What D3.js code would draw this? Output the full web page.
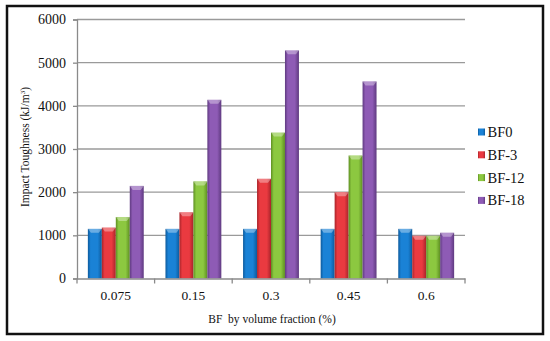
<!DOCTYPE html>
<html>
<head>
<meta charset="utf-8">
<script src="https://cdn.jsdelivr.net/npm/d3@7"></script>
<style>
  body { margin: 0; background: #fff; }
  svg { display: block; font-family: "Liberation Serif", "Times New Roman", serif; }
</style>
</head>
<body>
<svg width="550" height="341"></svg>
<script>
var categories = ["0.075", "0.15", "0.3", "0.45", "0.6"];
var seriesNames = ["BF0", "BF-3", "BF-12", "BF-18"];
var bf0 = [1150, 1150, 1150, 1150, 1150];
var bf3 = [1180, 1535, 2310, 2000, 990];
var bf12 = [1425, 2250, 3380, 2850, 990];
var bf18 = [2145, 4140, 5285, 4565, 1060];
var yTicks = [0, 1000, 2000, 3000, 4000, 5000, 6000];
var colors = ["#1a82d6", "#ea3a40", "#8cc840", "#8e5bb5"];
var dark = ["#0d5a9c", "#a8242a", "#5e8f22", "#5f3a80"];

var allSeries = [bf0, bf3, bf12, bf18];

var svg = d3.select("svg");

// cadre
svg.append("rect")
    .attr("x", 7).attr("y", 6)
    .attr("width", 536).attr("height", 328)
    .attr("fill", "none")
    .attr("stroke", "#111")
    .attr("stroke-width", 2.5);

var plotLeft = 77, plotRight = 465, plotTop = 19.5, plotBottom = 278.5;

var x0 = d3.scaleBand().domain(categories).range([plotLeft, plotRight]).paddingInner(0).paddingOuter(0);
var x1 = d3.scaleBand().domain(seriesNames)
    .range([x0.bandwidth() * 0.14, x0.bandwidth() * 0.86]).padding(0);
var y = d3.scaleLinear().domain([0, 6000]).range([plotBottom, plotTop]);

// gradients pour l'effet 3D
var defs = svg.append("defs");
seriesNames.forEach(function (s, i) {
    var g = defs.append("linearGradient").attr("id", "grad" + i)
        .attr("x1", "0%").attr("x2", "100%").attr("y1", "0%").attr("y2", "0%");
    g.append("stop").attr("offset", "0%").attr("stop-color", dark[i]);
    g.append("stop").attr("offset", "20%").attr("stop-color", colors[i]);
    g.append("stop").attr("offset", "70%").attr("stop-color", colors[i]);
    g.append("stop").attr("offset", "100%").attr("stop-color", dark[i]);
});

// griglia
svg.append("g").selectAll("line")
    .data(yTicks.filter(function (d) { return d > 0; }))
    .enter().append("line")
    .attr("x1", plotLeft).attr("x2", plotRight)
    .attr("y1", function (d) { return y(d); })
    .attr("y2", function (d) { return y(d); })
    .attr("stroke", "#9a9a9a")
    .attr("stroke-width", 1.3);

// asse y
var yAxis = svg.append("g")
    .attr("transform", "translate(" + plotLeft + ",0)")
    .call(d3.axisLeft(y).tickValues(yTicks).tickSize(4).tickPadding(7).tickFormat(d3.format("d")));
yAxis.select(".domain").attr("stroke", "#8a8a8a").attr("stroke-width", 1.3);
yAxis.selectAll(".tick line").attr("stroke", "#8a8a8a").attr("stroke-width", 1.3);
yAxis.selectAll("text").attr("font-size", 14).attr("fill", "#111")
    .attr("font-family", "Liberation Serif, serif");

// barre
var groups = svg.append("g").selectAll("g")
    .data(categories)
    .enter().append("g")
    .attr("transform", function (d) { return "translate(" + x0(d) + ",0)"; });

groups.selectAll("rect.bar")
    .data(function (d, ci) {
        return seriesNames.map(function (s, si) { return { s: s, si: si, v: allSeries[si][ci] }; });
    })
    .enter().append("rect")
    .attr("class", "bar")
    .attr("x", function (d) { return x1(d.s); })
    .attr("y", function (d) { return y(d.v); })
    .attr("width", x1.bandwidth())
    .attr("height", function (d) { return plotBottom - y(d.v); })
    .attr("fill", function (d) { return "url(#grad" + d.si + ")"; });

// bordo superiore chiaro
groups.selectAll("path.cap")
    .data(function (d, ci) {
        return seriesNames.map(function (s, si) { return { s: s, si: si, v: allSeries[si][ci] }; });
    })
    .enter().append("path")
    .attr("class", "cap")
    .attr("d", function (d) {
        var xa = x1(d.s), w = x1.bandwidth(), ya = y(d.v);
        return "M" + xa + "," + ya + "L" + (xa + w) + "," + ya +
            "L" + (xa + w - 3) + "," + (ya + 4) + "L" + (xa + 3) + "," + (ya + 4) + "Z";
    })
    .attr("fill", "#fff")
    .attr("opacity", 0.35);

// asse x
var xAxis = svg.append("g")
    .attr("transform", "translate(0," + plotBottom + ")")
    .call(d3.axisBottom(x0).tickSize(0).tickPadding(12));
xAxis.select(".domain").attr("stroke", "#8a8a8a").attr("stroke-width", 1.3);
xAxis.selectAll("text").attr("font-size", 13.5).attr("fill", "#111")
    .attr("font-family", "Liberation Serif, serif");
svg.append("g").selectAll("line")
    .data(d3.range(categories.length + 1))
    .enter().append("line")
    .attr("x1", function (i) { return plotLeft + i * x0.bandwidth(); })
    .attr("x2", function (i) { return plotLeft + i * x0.bandwidth(); })
    .attr("y1", plotBottom).attr("y2", plotBottom + 5)
    .attr("stroke", "#8a8a8a").attr("stroke-width", 1.3);

// titoli assi
svg.append("text")
    .attr("x", 272).attr("y", 323)
    .attr("text-anchor", "middle")
    .attr("font-size", 11.5)
    .attr("fill", "#111")
    .attr("xml:space", "preserve")
    .text("BF  by volume fraction (%)");

var yt = svg.append("text")
    .attr("transform", "translate(29,147) rotate(-90)")
    .attr("text-anchor", "middle")
    .attr("font-size", 11.5)
    .attr("fill", "#111");
yt.append("tspan").text("Impact Toughness (kJ/m");
yt.append("tspan").attr("font-size", 7).attr("dy", -4).text("3");
yt.append("tspan").attr("dy", 4).text(")");

// legenda
var legend = svg.append("g").selectAll("g")
    .data(seriesNames)
    .enter().append("g")
    .attr("transform", function (d, i) { return "translate(478," + (132 + i * 22.8) + ")"; });
legend.append("rect")
    .attr("x", 0).attr("y", -3.5)
    .attr("width", 7).attr("height", 7)
    .attr("fill", function (d, i) { return "url(#grad" + i + ")"; });
legend.append("text")
    .attr("x", 9.5).attr("y", 5)
    .attr("font-size", 14.5)
    .attr("fill", "#111")
    .text(function (d) { return d; });
</script>
</body>
</html>
